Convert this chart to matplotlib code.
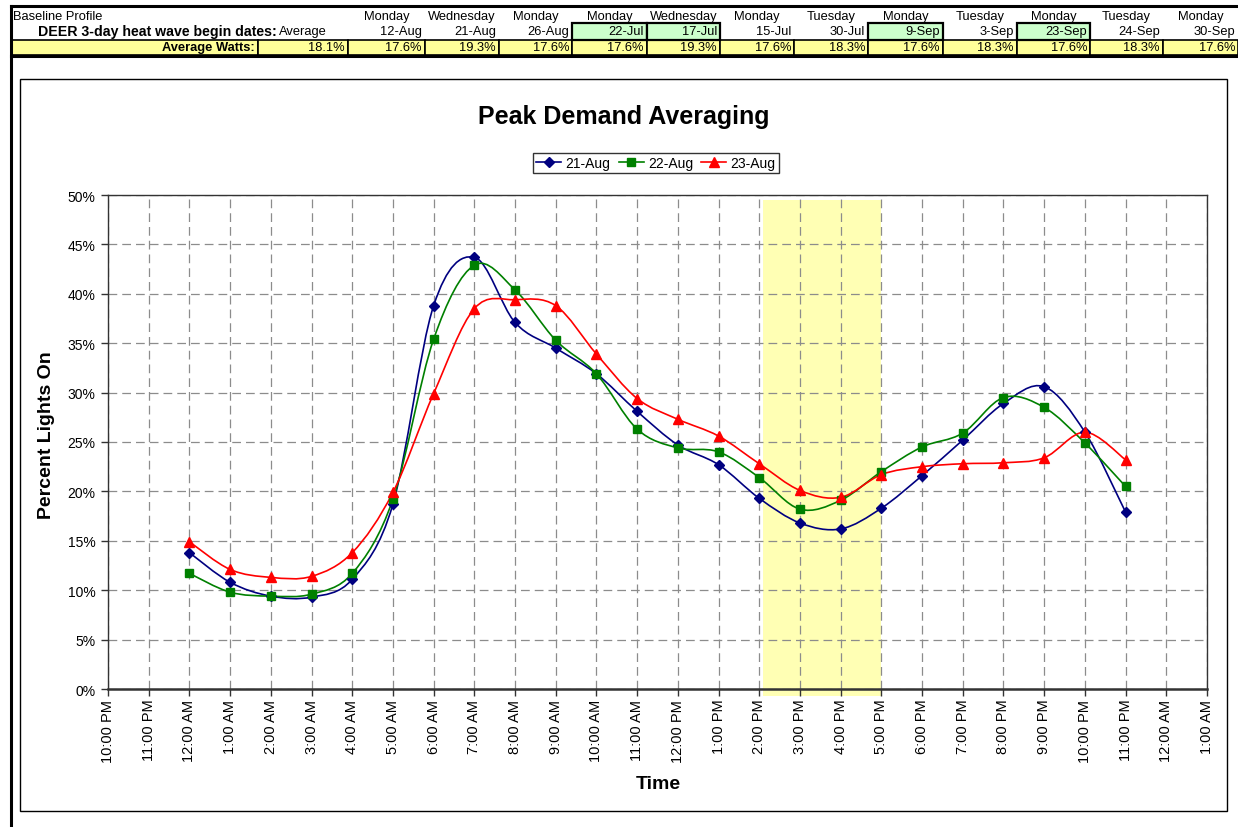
import numpy as np
import matplotlib.pyplot as plt
from matplotlib.path import Path
from matplotlib.patches import PathPatch, Rectangle
from matplotlib.lines import Line2D

plt.rcParams['font.family'] = ['Liberation Sans', 'DejaVu Sans']

W, H = 1238, 828

# Header table
day_names = ['Monday', 'Wednesday', 'Monday', 'Monday', 'Wednesday', 'Monday',
             'Tuesday', 'Monday', 'Tuesday', 'Monday', 'Tuesday', 'Monday']
begin_dates = ['12-Aug', '21-Aug', '26-Aug', '22-Jul', '17-Jul', '15-Jul',
               '30-Jul', '9-Sep', '3-Sep', '23-Sep', '24-Sep', '30-Sep']
avg_watts = [17.6, 19.3, 17.6, 17.6, 19.3, 17.6, 18.3, 17.6, 18.3, 17.6, 18.3, 17.6]
overall_avg = 18.1
picked = ['22-Jul', '17-Jul', '9-Sep', '23-Sep']

# Hourly profile
hour_labels = ['10:00 PM', '11:00 PM'] + \
    [f'{h}:00 AM' for h in [12] + list(range(1, 12))] + \
    [f'{h}:00 PM' for h in [12] + list(range(1, 12))] + \
    ['12:00 AM', '1:00 AM']
hours = np.arange(2, 26)
aug21 = [13.8, 10.8, 9.4, 9.3, 11.1, 18.7, 38.8, 43.7, 37.1, 34.5, 31.9, 28.1,
         24.7, 22.7, 19.3, 16.8, 16.2, 18.3, 21.6, 25.2, 28.9, 30.6, 26.0, 17.9]
aug22 = [11.7, 9.8, 9.4, 9.6, 11.7, 19.2, 35.4, 42.9, 40.4, 35.3, 31.9, 26.3,
         24.4, 24.0, 21.4, 18.2, 19.1, 22.0, 24.5, 25.9, 29.5, 28.5, 24.9, 20.5]
aug23 = [14.9, 12.1, 11.3, 11.4, 13.8, 19.9, 29.9, 38.5, 39.4, 38.8, 33.9, 29.4,
         27.3, 25.6, 22.8, 20.1, 19.4, 21.7, 22.5, 22.8, 22.9, 23.4, 26.0, 23.2]
peak_window = (16.1, 19.0)


def fx(x):
    return x / W


def fy(y):
    return 1 - y / H


def smooth_path(xs, ys):
    # Catmull-Rom style bezier through the points
    pts = np.column_stack([xs, ys]).astype(float)
    n = len(pts)
    verts = [pts[0]]
    codes = [Path.MOVETO]
    for i in range(n - 1):
        p0 = pts[max(i - 1, 0)]
        p1 = pts[i]
        p2 = pts[i + 1]
        p3 = pts[min(i + 2, n - 1)]
        verts += [p1 + (p2 - p0) / 6, p2 - (p3 - p1) / 6, p2]
        codes += [Path.CURVE4] * 3
    return Path(verts, codes)


fig = plt.figure(figsize=(W / 100, H / 100), dpi=100)

# ---- header table ----
bounds = [12, 258, 348, 425, 499, 572, 647, 720, 794, 868, 943, 1017, 1090, 1163, 1238]
fs = 9.3
fig.text(fx(13), fy(17), 'Baseline Profile', fontsize=fs, va='center')
fig.text(fx(277), fy(32), 'DEER 3-day heat wave begin dates:', fontsize=10.2,
         fontweight='bold', ha='right', va='center')
fig.text(fx((bounds[1] + bounds[2]) / 2), fy(32), 'Average', fontsize=fs,
         ha='center', va='center')

# yellow row
for i in range(len(bounds) - 1):
    fig.patches.append(Rectangle((fx(bounds[i]), fy(56)), fx(bounds[i + 1] - bounds[i]),
                                 15 / H, transform=fig.transFigure,
                                 facecolor='#ffff99', edgecolor='black', lw=1.2))
fig.text(fx(255), fy(48), 'Average Watts:', fontsize=fs, fontweight='bold',
         ha='right', va='center')
fig.text(fx(bounds[2] - 3), fy(48), f'{overall_avg:.1f}%', fontsize=fs,
         ha='right', va='center')

for i, (d, dt, w) in enumerate(zip(day_names, begin_dates, avg_watts)):
    x0, x1 = bounds[i + 2], bounds[i + 3]
    if dt in picked:
        fig.patches.append(Rectangle((fx(x0), fy(41)), fx(x1 - x0), 17 / H,
                                     transform=fig.transFigure, facecolor='#ccffcc',
                                     edgecolor='black', lw=1.6))
    fig.text(fx((x0 + x1) / 2), fy(17), d, fontsize=fs, ha='center', va='center')
    fig.text(fx(x1 - 3), fy(32), dt, fontsize=fs, ha='right', va='center')
    fig.text(fx(x1 - 3), fy(48), f'{w:.1f}%', fontsize=fs, ha='right', va='center')

# heavy borders
fig.add_artist(Line2D([fx(11), 1], [fy(7), fy(7)], color='black', lw=2.2))
fig.add_artist(Line2D([fx(11), 1], [fy(57), fy(57)], color='black', lw=2.2))
fig.add_artist(Line2D([fx(11), fx(11)], [fy(7), 0], color='black', lw=2.2))

# chart frame
fig.patches.append(Rectangle((fx(20), fy(812)), fx(1207), (812 - 80) / H,
                             transform=fig.transFigure, facecolor='white',
                             edgecolor='black', lw=1.0, zorder=-1))

# ---- plot ----
ax = fig.add_axes([fx(108), fy(690), fx(1207 - 108), (690 - 196) / H])
ax.set_zorder(1)
ax.set_facecolor('none')

ax.add_patch(Rectangle((peak_window[0], -0.7), peak_window[1] - peak_window[0], 50.2,
                       facecolor='#ffffb4', edgecolor='none', zorder=0.5, clip_on=False))

series = [
    (aug21, '21-Aug', '#000080', 'D', 5),
    (aug22, '22-Aug', '#008000', 's', 6),
    (aug23, '23-Aug', '#ff0000', '^', 6.5),
]
handles = []
for vals, name, col, mk, ms in series:
    ax.add_patch(PathPatch(smooth_path(hours, vals), fill=False, edgecolor=col,
                           lw=1.2, zorder=3))
    ax.plot(hours, vals, linestyle='none', marker=mk, ms=ms, color=col, zorder=4)
    handles.append(Line2D([], [], color=col, lw=1.2, marker=mk, ms=ms, label=name))

ax.set_xlim(0, 27)
ax.set_ylim(0, 50)
ax.set_xticks(range(len(hour_labels)))
ax.set_xticklabels(hour_labels, rotation=90, fontsize=10.5)
ax.set_yticks(range(0, 51, 5))
ax.set_yticklabels([f'{v}%' for v in range(0, 51, 5)], fontsize=10)
ax.tick_params(axis='both', direction='out', length=5, width=1, color='#333333', pad=4)
ax.tick_params(axis='x', pad=2)
ax.grid(True, color='#8c8c8c', linestyle=(0, (7, 4)), lw=0.9, zorder=1)
ax.set_axisbelow(True)
for s in ['top', 'right', 'left']:
    ax.spines[s].set_color('#333333')
    ax.spines[s].set_linewidth(1.0)
ax.spines['bottom'].set_color('#333333')
ax.spines['bottom'].set_linewidth(1.8)

fig.text(fx(624), fy(117), 'Peak Demand Averaging', fontsize=18, fontweight='bold',
         ha='center', va='center')
fig.text(fx(47), fy(435), 'Percent Lights On', fontsize=14, fontweight='bold',
         ha='center', va='center', rotation=90)
fig.text(fx(658), fy(785), 'Time', fontsize=14, fontweight='bold',
         ha='center', va='center')

leg = fig.legend(handles=handles, loc='center', bbox_to_anchor=(fx(656), fy(164)),
                 ncol=3, fontsize=10, frameon=True, fancybox=False, handlelength=1.8,
                 handletextpad=0.3, columnspacing=0.6, borderpad=0.25)
leg.get_frame().set_edgecolor('black')
leg.get_frame().set_linewidth(1.0)

fig.savefig('out.png', dpi=100)
